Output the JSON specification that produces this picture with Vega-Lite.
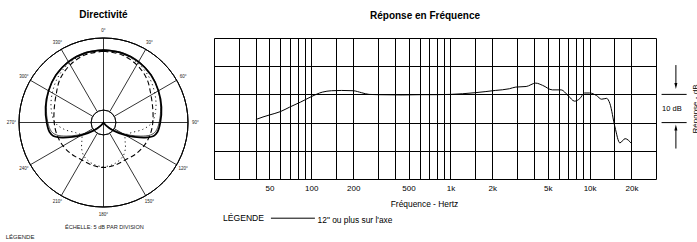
{
  "$schema": "https://vega.github.io/schema/vega-lite/v6.json",
  "background": "white",
  "padding": {"left": 0, "top": 10, "right": 0, "bottom": 0},
  "bounds": "flush",
  "spacing": 7,
  "config": {
    "view": {"stroke": null},
    "font": "Liberation Sans"
  },
  "datasets": {
    "polar": [
      {"curve": "A", "angle": 0, "level": -4.2}, {"curve": "A", "angle": 15, "level": -4.4}, {"curve": "A", "angle": 30, "level": -5.0}, {"curve": "A", "angle": 45, "level": -6.0}, {"curve": "A", "angle": 60, "level": -7.3}, {"curve": "A", "angle": 75, "level": -8.5}, {"curve": "A", "angle": 90, "level": -9.6}, {"curve": "A", "angle": 100, "level": -10.3}, {"curve": "A", "angle": 105, "level": -11.3}, {"curve": "A", "angle": 110, "level": -14.0}, {"curve": "A", "angle": 115, "level": -17.5}, {"curve": "A", "angle": 120, "level": -20.5}, {"curve": "A", "angle": 130, "level": -25.0}, {"curve": "A", "angle": 140, "level": -28.0}, {"curve": "A", "angle": 150, "level": -29.3}, {"curve": "A", "angle": 180, "level": -29.3}, {"curve": "A", "angle": 210, "level": -29.3}, {"curve": "A", "angle": 220, "level": -28.0}, {"curve": "A", "angle": 230, "level": -25.0}, {"curve": "A", "angle": 240, "level": -20.5}, {"curve": "A", "angle": 245, "level": -17.5}, {"curve": "A", "angle": 250, "level": -14.0}, {"curve": "A", "angle": 255, "level": -11.3}, {"curve": "A", "angle": 260, "level": -10.3}, {"curve": "A", "angle": 270, "level": -9.6}, {"curve": "A", "angle": 285, "level": -8.5}, {"curve": "A", "angle": 300, "level": -7.3}, {"curve": "A", "angle": 315, "level": -6.0}, {"curve": "A", "angle": 330, "level": -5.0}, {"curve": "A", "angle": 345, "level": -4.4}, {"curve": "A", "angle": 360, "level": -4.2},
      {"curve": "C", "angle": 0, "level": -4.0}, {"curve": "C", "angle": 15, "level": -4.2}, {"curve": "C", "angle": 30, "level": -4.8}, {"curve": "C", "angle": 45, "level": -5.9}, {"curve": "C", "angle": 60, "level": -7.4}, {"curve": "C", "angle": 75, "level": -8.8}, {"curve": "C", "angle": 90, "level": -10.0}, {"curve": "C", "angle": 100, "level": -11.0}, {"curve": "C", "angle": 105, "level": -12.5}, {"curve": "C", "angle": 110, "level": -15.5}, {"curve": "C", "angle": 115, "level": -18.8}, {"curve": "C", "angle": 120, "level": -21.8}, {"curve": "C", "angle": 130, "level": -26.0}, {"curve": "C", "angle": 140, "level": -28.6}, {"curve": "C", "angle": 150, "level": -29.3}, {"curve": "C", "angle": 180, "level": -29.3}, {"curve": "C", "angle": 210, "level": -29.3}, {"curve": "C", "angle": 220, "level": -28.6}, {"curve": "C", "angle": 230, "level": -26.0}, {"curve": "C", "angle": 240, "level": -21.8}, {"curve": "C", "angle": 245, "level": -18.8}, {"curve": "C", "angle": 250, "level": -15.5}, {"curve": "C", "angle": 255, "level": -12.5}, {"curve": "C", "angle": 260, "level": -11.0}, {"curve": "C", "angle": 270, "level": -10.0}, {"curve": "C", "angle": 285, "level": -8.8}, {"curve": "C", "angle": 300, "level": -7.4}, {"curve": "C", "angle": 315, "level": -5.9}, {"curve": "C", "angle": 330, "level": -4.8}, {"curve": "C", "angle": 345, "level": -4.2}, {"curve": "C", "angle": 360, "level": -4.0},
      {"curve": "B", "angle": 0, "level": -4.6}, {"curve": "B", "angle": 15, "level": -5.0}, {"curve": "B", "angle": 30, "level": -6.2}, {"curve": "B", "angle": 45, "level": -8.0}, {"curve": "B", "angle": 60, "level": -10.3}, {"curve": "B", "angle": 75, "level": -11.6}, {"curve": "B", "angle": 90, "level": -12.2}, {"curve": "B", "angle": 105, "level": -12.6}, {"curve": "B", "angle": 120, "level": -13.1}, {"curve": "B", "angle": 135, "level": -13.7}, {"curve": "B", "angle": 150, "level": -14.3}, {"curve": "B", "angle": 165, "level": -14.0}, {"curve": "B", "angle": 180, "level": -13.7}, {"curve": "B", "angle": 195, "level": -14.0}, {"curve": "B", "angle": 210, "level": -14.3}, {"curve": "B", "angle": 225, "level": -13.7}, {"curve": "B", "angle": 240, "level": -13.1}, {"curve": "B", "angle": 255, "level": -12.6}, {"curve": "B", "angle": 270, "level": -12.2}, {"curve": "B", "angle": 285, "level": -11.6}, {"curve": "B", "angle": 300, "level": -10.3}, {"curve": "B", "angle": 315, "level": -8.0}, {"curve": "B", "angle": 330, "level": -6.2}, {"curve": "B", "angle": 345, "level": -5.0}, {"curve": "B", "angle": 360, "level": -4.6},
      {"curve": "D", "angle": 0, "level": -4.3}, {"curve": "D", "angle": 15, "level": -4.6}, {"curve": "D", "angle": 30, "level": -5.5}, {"curve": "D", "angle": 45, "level": -7.0}, {"curve": "D", "angle": 60, "level": -8.8}, {"curve": "D", "angle": 75, "level": -10.5}, {"curve": "D", "angle": 90, "level": -12.5}, {"curve": "D", "angle": 100, "level": -15.5}, {"curve": "D", "angle": 110, "level": -19.0}, {"curve": "D", "angle": 120, "level": -20.5}, {"curve": "D", "angle": 130, "level": -19.5}, {"curve": "D", "angle": 140, "level": -17.5}, {"curve": "D", "angle": 150, "level": -15.8}, {"curve": "D", "angle": 165, "level": -14.5}, {"curve": "D", "angle": 180, "level": -14.0}, {"curve": "D", "angle": 195, "level": -14.5}, {"curve": "D", "angle": 210, "level": -15.8}, {"curve": "D", "angle": 220, "level": -17.5}, {"curve": "D", "angle": 230, "level": -19.5}, {"curve": "D", "angle": 240, "level": -20.5}, {"curve": "D", "angle": 250, "level": -19.0}, {"curve": "D", "angle": 260, "level": -15.5}, {"curve": "D", "angle": 270, "level": -12.5}, {"curve": "D", "angle": 285, "level": -10.5}, {"curve": "D", "angle": 300, "level": -8.8}, {"curve": "D", "angle": 315, "level": -7.0}, {"curve": "D", "angle": 330, "level": -5.5}, {"curve": "D", "angle": 345, "level": -4.6}, {"curve": "D", "angle": 360, "level": -4.3}
    ]
  },
  "hconcat": [
    {
      "width": 207,
      "height": 141,
      "title": {"text": "Directivité", "fontSize": 10, "fontWeight": "bold", "color": "black", "frame": "group", "anchor": "middle", "baseline": "alphabetic", "offset": -0.5},
      "layer": [
        {
          "data": {"values": [{"ring": -25}, {"ring": -20}, {"ring": -15}, {"ring": -10}, {"ring": -5}, {"ring": 0}]},
          "mark": {"type": "arc", "filled": false, "fill": null, "stroke": "black", "strokeWidth": 0.8, "theta": 0, "theta2": 6.2832},
          "encoding": {
            "x": {"datum": 0, "type": "quantitative", "scale": {"domain": [-35.89, 35.89], "nice": false, "zero": false}, "axis": null},
            "y": {"datum": 0, "type": "quantitative", "scale": {"domain": [-19.59, 29.3], "nice": false, "zero": false}, "axis": null},
            "radius": {"field": "ring", "type": "quantitative", "scale": {"type": "linear", "domain": [-29.3, 0], "range": [0, 84.5], "zero": false}}
          }
        },
        {
          "data": {"values": [
            {"angle": 0, "from": -29.3}, {"angle": 30, "from": -25}, {"angle": 60, "from": -25}, {"angle": 90, "from": -29.3},
            {"angle": 120, "from": -25}, {"angle": 150, "from": -25}, {"angle": 180, "from": -29.3}, {"angle": 210, "from": -25},
            {"angle": 240, "from": -25}, {"angle": 270, "from": -29.3}, {"angle": 300, "from": -25}, {"angle": 330, "from": -25}
          ]},
          "transform": [
            {"calculate": "(datum.from + 29.3) * sin(datum.angle * PI / 180)", "as": "sx"},
            {"calculate": "(datum.from + 29.3) * cos(datum.angle * PI / 180)", "as": "sy"},
            {"calculate": "29.3 * sin(datum.angle * PI / 180)", "as": "ex"},
            {"calculate": "29.3 * cos(datum.angle * PI / 180)", "as": "ey"}
          ],
          "mark": {"type": "rule", "color": "black", "strokeWidth": 0.8},
          "encoding": {
            "x": {"field": "sx", "type": "quantitative", "scale": {"domain": [-35.89, 35.89], "nice": false, "zero": false}, "axis": null},
            "y": {"field": "sy", "type": "quantitative", "scale": {"domain": [-19.59, 29.3], "nice": false, "zero": false}, "axis": null},
            "x2": {"field": "ex"},
            "y2": {"field": "ey"}
          }
        },
        {
          "data": {"name": "polar"},
          "transform": [
            {"filter": "datum.curve == 'D'"},
            {"calculate": "max(datum.level + 29.3, 0)", "as": "u"},
            {"calculate": "datum.u * sin(datum.angle * PI / 180)", "as": "px"},
            {"calculate": "datum.u * cos(datum.angle * PI / 180)", "as": "py"}
          ],
          "mark": {"type": "line", "color": "black", "strokeWidth": 0.9, "strokeDash": [1.2, 3], "interpolate": "catmull-rom"},
          "encoding": {
            "x": {"field": "px", "type": "quantitative", "scale": {"domain": [-35.89, 35.89], "nice": false, "zero": false}, "axis": null},
            "y": {"field": "py", "type": "quantitative", "scale": {"domain": [-19.59, 29.3], "nice": false, "zero": false}, "axis": null},
            "order": {"field": "angle", "type": "quantitative"}
          }
        },
        {
          "data": {"name": "polar"},
          "transform": [
            {"filter": "datum.curve == 'B'"},
            {"calculate": "max(datum.level + 29.3, 0)", "as": "u"},
            {"calculate": "datum.u * sin(datum.angle * PI / 180)", "as": "px"},
            {"calculate": "datum.u * cos(datum.angle * PI / 180)", "as": "py"}
          ],
          "mark": {"type": "line", "color": "black", "strokeWidth": 1.1, "strokeDash": [5, 3], "interpolate": "catmull-rom"},
          "encoding": {
            "x": {"field": "px", "type": "quantitative", "scale": {"domain": [-35.89, 35.89], "nice": false, "zero": false}, "axis": null},
            "y": {"field": "py", "type": "quantitative", "scale": {"domain": [-19.59, 29.3], "nice": false, "zero": false}, "axis": null},
            "order": {"field": "angle", "type": "quantitative"}
          }
        },
        {
          "data": {"name": "polar"},
          "transform": [
            {"filter": "datum.curve == 'C'"},
            {"calculate": "max(datum.level + 29.3, 0)", "as": "u"},
            {"calculate": "datum.u * sin(datum.angle * PI / 180)", "as": "px"},
            {"calculate": "datum.u * cos(datum.angle * PI / 180)", "as": "py"}
          ],
          "mark": {"type": "line", "color": "black", "strokeWidth": 0.7, "interpolate": "catmull-rom"},
          "encoding": {
            "x": {"field": "px", "type": "quantitative", "scale": {"domain": [-35.89, 35.89], "nice": false, "zero": false}, "axis": null},
            "y": {"field": "py", "type": "quantitative", "scale": {"domain": [-19.59, 29.3], "nice": false, "zero": false}, "axis": null},
            "order": {"field": "angle", "type": "quantitative"}
          }
        },
        {
          "data": {"name": "polar"},
          "transform": [
            {"filter": "datum.curve == 'A'"},
            {"calculate": "max(datum.level + 29.3, 0)", "as": "u"},
            {"calculate": "datum.u * sin(datum.angle * PI / 180)", "as": "px"},
            {"calculate": "datum.u * cos(datum.angle * PI / 180)", "as": "py"}
          ],
          "mark": {"type": "line", "color": "black", "strokeWidth": 1.7, "interpolate": "catmull-rom"},
          "encoding": {
            "x": {"field": "px", "type": "quantitative", "scale": {"domain": [-35.89, 35.89], "nice": false, "zero": false}, "axis": null},
            "y": {"field": "py", "type": "quantitative", "scale": {"domain": [-19.59, 29.3], "nice": false, "zero": false}, "axis": null},
            "order": {"field": "angle", "type": "quantitative"}
          }
        },
        {
          "data": {"values": [
            {"angle": 0, "label": "0°"}, {"angle": 30, "label": "30°"}, {"angle": 60, "label": "60°"}, {"angle": 90, "label": "90°"},
            {"angle": 120, "label": "120°"}, {"angle": 150, "label": "150°"}, {"angle": 180, "label": "180°"}, {"angle": 210, "label": "210°"},
            {"angle": 240, "label": "240°"}, {"angle": 270, "label": "270°"}, {"angle": 300, "label": "300°"}, {"angle": 330, "label": "330°"}
          ]},
          "transform": [
            {"calculate": "31.9 * sin(datum.angle * PI / 180)", "as": "lx"},
            {"calculate": "31.9 * cos(datum.angle * PI / 180)", "as": "ly"}
          ],
          "mark": {"type": "text", "fontSize": 4.5, "color": "#222", "align": "center", "baseline": "middle"},
          "encoding": {
            "x": {"field": "lx", "type": "quantitative", "scale": {"domain": [-35.89, 35.89], "nice": false, "zero": false}, "axis": null},
            "y": {"field": "ly", "type": "quantitative", "scale": {"domain": [-19.59, 29.3], "nice": false, "zero": false}, "axis": null},
            "text": {"field": "label"}
          }
        },
        {
          "data": {"values": [{}]},
          "mark": {"type": "text", "fontSize": 5.6, "color": "#222", "align": "center", "baseline": "middle"},
          "encoding": {
            "x": {"datum": 0.3, "type": "quantitative", "scale": {"domain": [-35.89, 35.89], "nice": false, "zero": false}, "axis": null},
            "y": {"datum": -36.2, "type": "quantitative", "scale": {"domain": [-19.59, 29.3], "nice": false, "zero": false}, "axis": null},
            "text": {"value": "ÉCHELLE: 5 dB PAR DIVISION"}
          }
        },
        {
          "data": {"values": [{}]},
          "mark": {"type": "text", "fontSize": 6, "color": "#222", "align": "left", "baseline": "middle"},
          "encoding": {
            "x": {"datum": -33.9, "type": "quantitative", "scale": {"domain": [-35.89, 35.89], "nice": false, "zero": false}, "axis": null},
            "y": {"datum": -39.7, "type": "quantitative", "scale": {"domain": [-19.59, 29.3], "nice": false, "zero": false}, "axis": null},
            "text": {"value": "LÉGENDE"}
          }
        }
      ]
    },
    {
      "width": 442,
      "height": 141,
      "view": {"stroke": "black", "strokeWidth": 1},
      "title": {"text": "Réponse en Fréquence", "fontSize": 10, "fontWeight": "bold", "color": "black", "frame": "group", "anchor": "middle", "baseline": "alphabetic", "offset": 9.5, "dx": -10},
      "layer": [
        {
          "data": {"values": [
            {"f": 40, "db": -8.9}, {"f": 45, "db": -8.0}, {"f": 50, "db": -7.3}, {"f": 60, "db": -6.1}, {"f": 70, "db": -4.5},
            {"f": 84, "db": -2.7}, {"f": 100, "db": -0.8}, {"f": 120, "db": 0.8}, {"f": 140, "db": 1.3}, {"f": 165, "db": 1.4},
            {"f": 200, "db": 1.3}, {"f": 230, "db": 0.6}, {"f": 260, "db": 0.0}, {"f": 300, "db": -0.1}, {"f": 450, "db": -0.2},
            {"f": 600, "db": -0.1}, {"f": 780, "db": -0.1}, {"f": 1000, "db": 0.0}, {"f": 1500, "db": 0.6}, {"f": 2100, "db": 1.4},
            {"f": 2650, "db": 2.0}, {"f": 2950, "db": 2.6}, {"f": 3500, "db": 2.8}, {"f": 4100, "db": 4.0}, {"f": 4600, "db": 3.2},
            {"f": 5400, "db": 1.6}, {"f": 6250, "db": 1.6}, {"f": 7000, "db": -0.4}, {"f": 7800, "db": -2.4}, {"f": 8500, "db": -1.5},
            {"f": 9200, "db": 0.5}, {"f": 10000, "db": 0.5}, {"f": 11200, "db": -0.4}, {"f": 12200, "db": -1.7}, {"f": 13250, "db": -1.4},
            {"f": 14000, "db": -3.3}, {"f": 15200, "db": -11.5}, {"f": 16500, "db": -17.2}, {"f": 18000, "db": -15.7}, {"f": 20000, "db": -17.4}
          ]},
          "mark": {"type": "line", "color": "black", "strokeWidth": 1, "interpolate": "monotone"},
          "encoding": {
            "x": {
              "field": "f", "type": "quantitative",
              "scale": {"type": "log", "domain": [20, 30000], "nice": false},
              "axis": {
                "values": [30, 40, 50, 60, 70, 80, 90, 100, 150, 200, 300, 400, 500, 600, 700, 800, 900, 1000, 1500, 2000, 3000, 4000, 5000, 6000, 7000, 8000, 9000, 10000, 15000, 20000],
                "grid": true, "gridColor": "black", "gridWidth": 1, "gridOpacity": 1,
                "ticks": false, "tickSize": 0, "domain": false,
                "labelExpr": "indexof([50,100,200,500,1000,2000,5000,10000,20000], datum.value) >= 0 ? (datum.value >= 1000 ? (datum.value / 1000) + 'k' : '' + datum.value) : ''",
                "labelFontSize": 8, "labelColor": "black", "labelPadding": 5, "labelOverlap": false, "labelFlush": false,
                "title": "Fréquence - Hertz", "titleFontSize": 8.4, "titleFontWeight": "normal", "titleColor": "black", "titlePadding": 7, "titleX": 210
              }
            },
            "y": {
              "field": "db", "type": "quantitative",
              "scale": {"domain": [-30, 20], "nice": false, "zero": false},
              "axis": {
                "orient": "right", "values": [-20, -10, 0, 10],
                "grid": true, "gridColor": "black", "gridWidth": 1, "gridOpacity": 1,
                "ticks": false, "tickSize": 0, "domain": false, "labels": false,
                "title": "Réponse - dB", "titleAngle": 270, "titleBaseline": "middle", "titleFontSize": 8, "titleFontWeight": "normal", "titleColor": "black", "titlePadding": 39
              }
            }
          }
        },
        {
          "data": {"values": [{"lvl": 0}, {"lvl": -10}]},
          "mark": {"type": "rule", "color": "black", "strokeWidth": 1},
          "encoding": {
            "x": {"datum": 32900, "type": "quantitative"},
            "x2": {"datum": 49800},
            "y": {"field": "lvl", "type": "quantitative"}
          }
        },
        {
          "data": {"values": [{"a": 10.4, "b": 3.2}, {"a": -19.2, "b": -12.0}]},
          "mark": {"type": "rule", "color": "black", "strokeWidth": 1},
          "encoding": {
            "x": {"datum": 41700, "type": "quantitative"},
            "y": {"field": "a", "type": "quantitative"},
            "y2": {"field": "b"}
          }
        },
        {
          "data": {"values": [{"yh": 3.0, "dir": "down"}, {"yh": -11.7, "dir": "up"}]},
          "mark": {"type": "point", "filled": true, "color": "black", "size": 36, "opacity": 1},
          "encoding": {
            "x": {"datum": 41700, "type": "quantitative"},
            "y": {"field": "yh", "type": "quantitative"},
            "shape": {"field": "dir", "type": "nominal", "scale": {"domain": ["down", "up"], "range": ["M-0.5,-1L0.5,-1L0,1Z", "M-0.5,1L0.5,1L0,-1Z"]}, "legend": null}
          }
        },
        {
          "data": {"values": [{}]},
          "mark": {"type": "text", "fontSize": 7.5, "color": "black", "align": "center", "baseline": "middle"},
          "encoding": {
            "x": {"datum": 39000, "type": "quantitative"},
            "y": {"datum": -5, "type": "quantitative"},
            "text": {"value": "10 dB"}
          }
        },
        {
          "data": {"values": [{}]},
          "mark": {"type": "text", "fontSize": 8.6, "color": "black", "align": "left", "baseline": "middle"},
          "encoding": {
            "x": {"datum": 23.2, "type": "quantitative"},
            "y": {"datum": -43.9, "type": "quantitative"},
            "text": {"value": "LÉGENDE"}
          }
        },
        {
          "data": {"values": [{}]},
          "mark": {"type": "rule", "color": "black", "strokeWidth": 1},
          "encoding": {
            "x": {"datum": 51.3, "type": "quantitative"},
            "x2": {"datum": 106.2},
            "y": {"datum": -43.9, "type": "quantitative"}
          }
        },
        {
          "data": {"values": [{}]},
          "mark": {"type": "text", "fontSize": 8.4, "color": "black", "align": "left", "baseline": "middle"},
          "encoding": {
            "x": {"datum": 111, "type": "quantitative"},
            "y": {"datum": -44.4, "type": "quantitative"},
            "text": {"value": "12\" ou plus sur l'axe"}
          }
        }
      ]
    }
  ]
}
